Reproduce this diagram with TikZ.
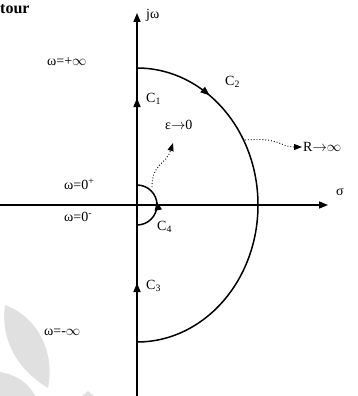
\documentclass[tikz,border=0pt]{standalone}
\usepackage{fontspec}
\setmainfont{Liberation Serif}
\usetikzlibrary{arrows.meta,decorations.markings}
\newcommand{\inff}{$\infty$}
\newcommand{\rarr}{$\rightarrow$}
\begin{document}
\begin{tikzpicture}[x=1pt,y=-1pt,
  ax/.style={line width=1.5pt},
  tip/.style={-{Triangle[length=9pt,width=7pt]}},
  dots/.style={dotted,line width=0.9pt,-{Triangle[length=8pt,width=6pt]}},
  lbl/.style={font=\fontsize{14}{16}\selectfont,inner sep=0pt},
  wm/.style={fill=black!12,draw=none},
  midtip/.style={postaction={decorate},decoration={markings,
     mark=at position #1 with {\arrow{Triangle[length=9pt,width=7pt]}}}}]
\useasboundingbox (0,0) rectangle (358,396);
% watermark leaves
\fill[wm] (5,305) .. controls (40,318) and (55,355) .. (48,388) .. controls (18,370) and (0,340) .. (5,305);
\fill[wm] (0,372) .. controls (18,375) and (30,385) .. (35,396) -- (0,396) -- cycle;
\fill[wm] (82,396) -- (88,391) -- (94,396) -- cycle;
% coordinates
\coordinate (O) at (137,205);
\coordinate (ybot) at (137,396);
\coordinate (ytop) at (137,13);
\coordinate (xl) at (0,205);
\coordinate (xr) at (328,205);
% axes
\draw[ax,tip] (xl) -- (xr);
\draw[ax,tip] (ybot) -- (ytop);
\draw[ax,-{Triangle[length=9pt,width=7pt]}] (137,230) -- (137,98);
\draw[ax,-{Triangle[length=9pt,width=7pt]}] (137,340) -- (137,283);
% big semicircle
\draw[ax,midtip=0.195] (137,68) arc[start angle=90,end angle=-90,x radius=121pt,y radius=137pt];
% small semicircle
\draw[ax,midtip=0.56] (137,225) arc[start angle=-90,end angle=90,radius=20pt];
% dotted pointers
\draw[dots] (152,187) .. controls (152,163) and (166,165) .. (173,143);
\draw[dots] (245,140) .. controls (280,137) and (280,147) .. (302,147);
% labels
\node[anchor=base west,inner sep=0pt,font=\fontsize{16}{18}\selectfont\bfseries] at (0,14) {tour};
\node[lbl,anchor=west] (jw) at (146,15) {jω};
\node[lbl,anchor=west] (winf) at (47,62) {ω=+\inff};
\node[lbl,anchor=west] (c1) at (146,99) {C\textsubscript{1}};
\node[lbl,anchor=west] (c2) at (225,82) {C\textsubscript{2}};
\node[lbl,anchor=west] (eps) at (165,125) {ε\rarr0};
\node[lbl,anchor=west] (R) at (303,147) {R\rarr\inff};
\node[lbl,anchor=west] (sig) at (336,192) {σ};
\node[lbl,anchor=west] (w0p) at (64,184) {ω=0\textsuperscript{+}};
\node[lbl,anchor=west] (w0m) at (64,217) {ω=0\textsuperscript{-}};
\node[lbl,anchor=west] (c4) at (157,227) {C\textsubscript{4}};
\node[lbl,anchor=west] (c3) at (146,286) {C\textsubscript{3}};
\node[lbl,anchor=west] (wminf) at (44,332) {ω=-\inff};
\end{tikzpicture}
\end{document}
